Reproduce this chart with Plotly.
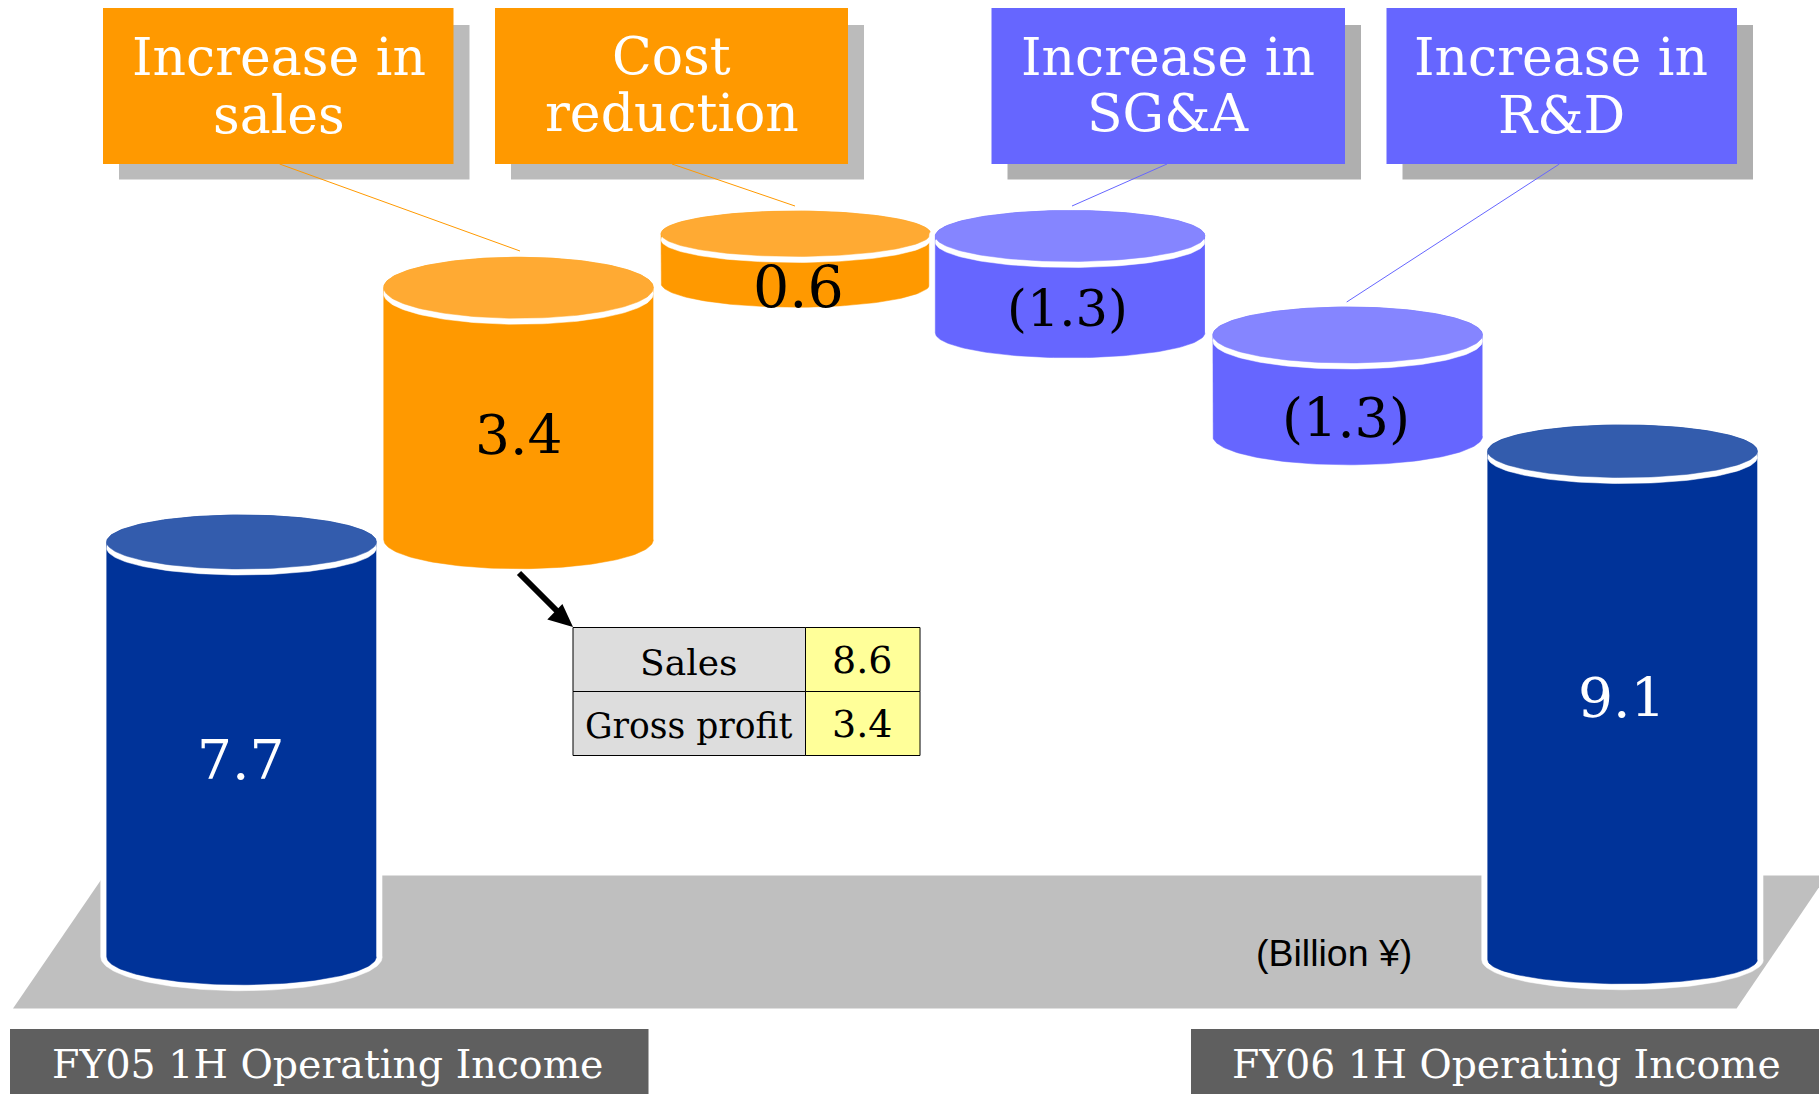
import numpy as np
import plotly.graph_objects as go

# ---- data -----------------------------------------------------------------
categories = ["FY05 1H", "Increase in sales", "Cost reduction",
              "Increase in SG&A", "Increase in R&D", "FY06 1H"]
value_labels = ["7.7", "3.4", "0.6", "(1.3)", "(1.3)", "9.1"]
level_low = [2.09, 7.65, 11.07, 10.41, 9.03, 2.05]     # running total at base of drum
level_high = [7.62, 11.01, 11.73, 11.70, 10.38, 8.83]  # running total at lid of drum
table_names = ["Sales", "Gross profit"]
table_values = ["8.6", "3.4"]
box_lines = [["Increase in", "sales"], ["Cost", "reduction"],
             ["Increase in", "SG&A"], ["Increase in", "R&D"]]
unit_label = "(Billion ¥)"
foot_labels = ["FY05 1H Operating Income", "FY06 1H Operating Income"]

# ---- layout / style --------------------------------------------------------
W, H = 1819, 1094
SERIF = "DejaVu Serif"
PX_PER_X, PX_PER_Y = 276.2, 75.0
X0_PX = 241.5
x_range = [-X0_PX / PX_PER_X, (W - X0_PX) / PX_PER_X]
y_range = [11.7 - (H - 236) / PX_PER_Y, 11.7 + 236 / PX_PER_Y]

x_pos = [0, 1.003, 2.007, 3.0, 4.005, 5.0]
half_w = 134.8 / PX_PER_X
lid_ry = [27, 30.5, 22.7, 25.5, 28, 26.3]
base_ry = [28, 29, 24, 25, 28.6, 24]
body_col = ["#003399", "#FF9900", "#FF9900", "#6666FF", "#6666FF", "#003399"]
lid_col = ["#335CAD", "#FFAA33", "#FFAA33", "#8585FF", "#8585FF", "#335CAD"]
label_col = ["white", "black", "black", "black", "black", "white"]
label_xy = [(240, 760), (518.5, 435), (798, 287), (1067, 308.5), (1345.6, 418), (1621.5, 698)]
label_size = [55, 55, 57, 51, 54, 55]


def px(x):
    return x / W


def py(y):
    return 1 - y / H


def rect(x0, y0, x1, y1, fill, line=None, width=0, layer="below"):
    return dict(type="rect", xref="paper", yref="paper", x0=px(x0), x1=px(x1),
                y0=py(y1), y1=py(y0), fillcolor=fill, layer=layer,
                line=dict(color=line or fill, width=width))


def seg(x0, y0, x1, y1, color, width):
    return dict(type="line", xref="paper", yref="paper", x0=px(x0), x1=px(x1),
                y0=py(y0), y1=py(y1), layer="above", line=dict(color=color, width=width))


def poly(points, fill):
    d = "M " + " L ".join(f"{px(a):.5f},{py(b):.5f}" for a, b in points) + " Z"
    return dict(type="path", xref="paper", yref="paper", path=d, fillcolor=fill,
                layer="below", line=dict(width=0))


def note(x, y, text, size, color="black", family=SERIF):
    return dict(xref="paper", yref="paper", x=px(x), y=py(y), text=text, showarrow=False,
                xanchor="center", yanchor="middle",
                font=dict(family=family, size=size, color=color))


fig = go.Figure()
t = np.linspace(0, 2 * np.pi, 181)
a = np.linspace(0, np.pi, 90)
pad_x, pad_y = 6 / PX_PER_X, 6 / PX_PER_Y
for i in range(len(categories)):
    cx, low, high = x_pos[i], level_low[i], level_high[i]
    rl, rb = lid_ry[i] / PX_PER_Y, base_ry[i] / PX_PER_Y
    common = dict(mode="lines", fill="toself", hoverinfo="skip", showlegend=False)
    # white halo: same silhouette, slightly larger, so its corners stay smooth
    hx = np.concatenate([cx + (half_w + pad_x) * np.cos(a), cx + (half_w + pad_x) * np.cos(a + np.pi)])
    hy = np.concatenate([high + (rl + pad_y) * np.sin(a), low + (rb + pad_y) * np.sin(a + np.pi)])
    fig.add_trace(go.Scatter(x=hx, y=hy, fillcolor="white", line=dict(color="white", width=0.5), **common))
    # silhouette: upper half of lid, then lower half of base
    sx = np.concatenate([cx + half_w * np.cos(a), cx + half_w * np.cos(a + np.pi)])
    sy = np.concatenate([high + rl * np.sin(a), low + rb * np.sin(a + np.pi)])
    fig.add_trace(go.Scatter(x=sx, y=sy, fillcolor=body_col[i],
                             line=dict(color=body_col[i], width=0.5), name=categories[i], **common))
    band = 6 / PX_PER_Y
    fig.add_trace(go.Scatter(x=cx + half_w * np.cos(t), y=high - band + rl * np.sin(t),
                             fillcolor="white", line=dict(color="white", width=0.5), **common))
    fig.add_trace(go.Scatter(x=cx + half_w * np.cos(t), y=high + rl * np.sin(t),
                             fillcolor=lid_col[i], line=dict(color=lid_col[i], width=0.5), **common))

shapes = [poly([(13, 1008.6), (104, 875.5), (1827, 875.5), (1736.6, 1008.6)], "#BFBFBF")]
boxes = [(103, 453.5, "#FF9900", "#BBBBBB"), (495, 848, "#FF9900", "#BBBBBB"),
         (991.5, 1345, "#6666FF", "#AFAFAF"), (1386.5, 1737, "#6666FF", "#AFAFAF")]
for x0, x1, fill, shadow in boxes:
    shapes.append(rect(x0 + 16, 25, x1 + 16, 179.5, shadow, layer="above"))
    shapes.append(rect(x0, 8, x1, 164, fill, layer="above"))

shapes += [seg(279.6, 164, 520, 251, "#FF9900", 1), seg(672, 164, 795, 206, "#FF9900", 1),
           seg(1167, 164, 1072, 206, "#6666FF", 1), seg(1559.4, 164, 1346.7, 302, "#6666FF", 1)]

# table
shapes += [rect(573, 627.5, 805.5, 691.5, "#DDDDDD", "black", 1, "above"),
           rect(573, 691.5, 805.5, 755.5, "#DDDDDD", "black", 1, "above"),
           rect(805.5, 627.5, 920, 691.5, "#FFFF99", "black", 1, "above"),
           rect(805.5, 691.5, 920, 755.5, "#FFFF99", "black", 1, "above")]

# arrow to the table
shapes.append(seg(519, 573, 563, 617, "black", 6))
head = poly([(573, 627), (562.4, 604), (547.3, 619.6)], "black")
head["layer"] = "above"
shapes.append(head)

# footer bars
shapes += [rect(10, 1029, 648.5, 1094, "#5F5F5F", layer="above"),
           rect(1191, 1029, 1819, 1094, "#5F5F5F", layer="above")]

ann = []
for i, (x, y) in enumerate(label_xy):
    ann.append(note(x, y, value_labels[i], label_size[i], label_col[i]))
box_cx = [278.5, 671.5, 1168, 1561]
line_y = [[57, 115], [56, 113], [57, 113], [57, 115]]
for i, lines in enumerate(box_lines):
    for j, s in enumerate(lines):
        ann.append(note(box_cx[i], line_y[i][j], s, 52, "white"))
ann.append(note(688, 662, table_names[0], 36))
ann.append(note(688.5, 726, table_names[1], 34.5))
ann.append(note(862, 660, table_values[0], 38))
ann.append(note(862, 724, table_values[1], 38))
ann.append(note(1334, 952.5, unit_label, 37.5, family="Liberation Sans"))
ann.append(note(327.5, 1064, foot_labels[0], 39.5, "white"))
ann.append(note(1506.5, 1064, foot_labels[1], 39.3, "white"))

fig.update_layout(
    width=W, height=H, margin=dict(l=0, r=0, t=0, b=0),
    paper_bgcolor="white", plot_bgcolor="rgba(0,0,0,0)", showlegend=False,
    xaxis=dict(visible=False, range=x_range, fixedrange=True),
    yaxis=dict(visible=False, range=y_range, fixedrange=True),
    shapes=shapes, annotations=ann,
)
fig.write_html("out.html", config=dict(displayModeBar=False),
               post_script="document.body.style.margin='0';document.body.style.overflow='hidden';")
